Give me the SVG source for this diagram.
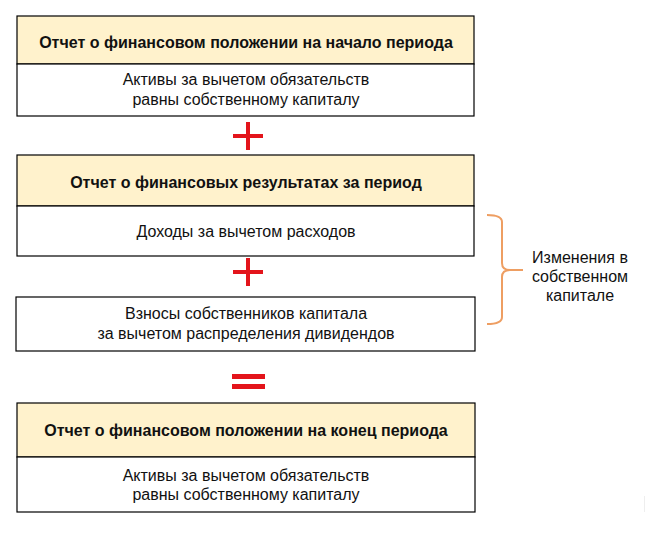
<svg xmlns="http://www.w3.org/2000/svg" width="658" height="533" viewBox="0 0 658 533">
<style>
.box{fill:#fff;stroke:#000;stroke-width:1.2}
.hdr{fill:#fff2cc;stroke:#000;stroke-width:1.2}
.t{font-family:"Liberation Sans",Arial,sans-serif;font-size:16px;fill:#111;text-anchor:middle}
.b{font-weight:bold}
.op{fill:#e3141b}
.brace{fill:none;stroke:#ee9e62;stroke-width:2}
</style>
<rect width="658" height="533" fill="#fff"/>
<g id="node-start">
<rect class="hdr" x="17" y="16" width="457" height="48"/>
<rect class="box" x="17" y="64" width="457" height="52"/>
<text class="t b" x="246" y="48">Отчет о финансовом положении на начало периода</text>
<text class="t" x="246" y="85">Активы за вычетом обязательств</text>
<text class="t" x="246" y="105">равны собственному капиталу</text>
</g>
<g id="node-results">
<rect class="hdr" x="17" y="155" width="457" height="51"/>
<rect class="box" x="17" y="206" width="457" height="50"/>
<text class="t b" x="246" y="188">Отчет о финансовых результатах за период</text>
<text class="t" x="246" y="237">Доходы за вычетом расходов</text>
</g>
<g id="node-contrib">
<rect class="box" x="16" y="297" width="459" height="54"/>
<text class="t" x="246" y="319">Взносы собственников капитала</text>
<text class="t" x="246" y="339">за вычетом распределения дивидендов</text>
</g>
<g id="node-end">
<rect class="hdr" x="17" y="403" width="458" height="54"/>
<rect class="box" x="17" y="457" width="458" height="55"/>
<text class="t b" x="246" y="436">Отчет о финансовом положении на конец периода</text>
<text class="t" x="246" y="481">Активы за вычетом обязательств</text>
<text class="t" x="246" y="500">равны собственному капиталу</text>
</g>
<g id="connectors">
<rect class="op" x="246" y="122" width="4" height="28"/>
<rect class="op" x="233" y="134" width="30" height="4"/>
<rect class="op" x="246" y="258" width="4" height="28"/>
<rect class="op" x="233" y="270" width="30" height="4"/>
<rect class="op" x="232" y="374" width="33" height="5"/>
<rect class="op" x="232" y="384" width="33" height="5"/>
</g>
<g id="node-changes">
<path class="brace" d="M487,215 Q502,215 502,222 L502,263 Q502,270 510,270 L523,270 M510,270 Q502,270 502,277 L502,317 Q502,324 487,324"/>
<text class="t" x="580" y="263">Изменения в</text>
<text class="t" x="580" y="282">собственном</text>
<text class="t" x="580" y="301">капитале</text>
</g>
<line x1="644.5" y1="496" x2="644.5" y2="512" stroke="#eeeeee" stroke-width="1"/>
</svg>
